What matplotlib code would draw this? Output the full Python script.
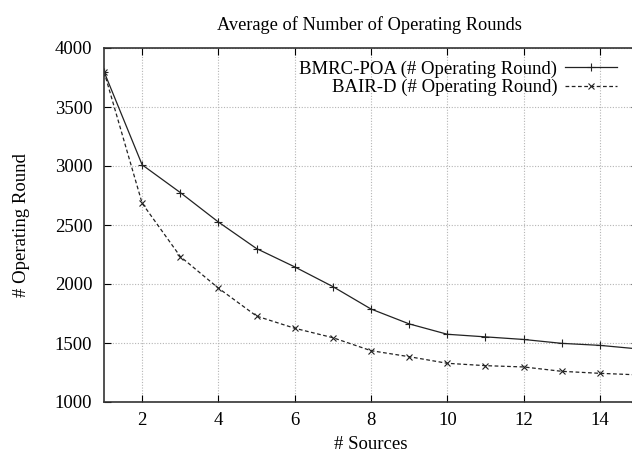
import matplotlib
matplotlib.use("Agg")
import matplotlib.pyplot as plt

sources = list(range(1, 16))
bmrc_poa = [3800, 3010, 2775, 2525, 2300, 2145, 1978, 1788, 1662, 1574, 1552, 1530, 1497, 1480, 1450]
bair_d = [3800, 2684, 2233, 1965, 1728, 1625, 1545, 1435, 1384, 1328, 1308, 1297, 1260, 1243, 1230]
xticks = [2, 4, 6, 8, 10, 12, 14]
yticks = [1000, 1500, 2000, 2500, 3000, 3500, 4000]

plt.rcParams['font.family'] = ['Liberation Serif', 'DejaVu Serif']
plt.rcParams['font.size'] = 13.5

fig = plt.figure(figsize=(6.32, 4.55), dpi=100)
ax = fig.add_axes([104/632, 53/455, (638-104)/632, (402-48)/455])

ax.plot(sources, bmrc_poa, color='#222222', lw=0.9, marker='+', ms=6, mew=0.8,
        label='BMRC-POA (# Operating Round)')
ax.plot(sources, bair_d, color='#222222', lw=0.9, ls=(0, (3, 2)), marker='x', ms=5, mew=0.8,
        label='BAIR-D (# Operating Round)')

ax.set_xlim(1, 15)
ax.set_ylim(1000, 4000)
ax.set_xticks(xticks)
ax.set_yticks(yticks)
ax.grid(True, ls=(0, (1, 1.5)), color='#b5b5b5', lw=0.8)
ax.tick_params(direction='in', top=True, right=True, length=5, width=0.8)
ax.tick_params(axis='y', pad=8.5)
ax.tick_params(axis='x', pad=7.5)
for s in ax.spines.values():
    s.set_linewidth(1.2)
    s.set_color('#333333')

ax.set_title('Average of Number of Operating Rounds', fontsize=13.2, pad=13, x=(369-104)/(638-104))
ax.set_xlabel('# Sources', labelpad=5)
ax.set_ylabel('# Operating Round', labelpad=18)

leg = ax.legend(loc='upper right', bbox_to_anchor=((629-104)/(638-104), 1.0), frameon=False,
                markerfirst=False, handlelength=2.75, handletextpad=0.43, labelspacing=0.08,
                borderaxespad=0.25)

fig.savefig('out.png', dpi=100)
